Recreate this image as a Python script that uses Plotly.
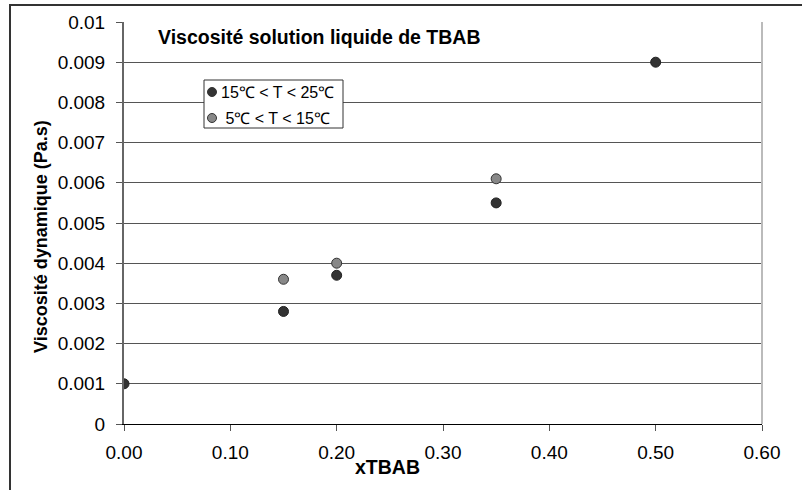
import plotly.graph_objects as go

# Mesures de viscosité dynamique d'une solution liquide de TBAB
x_chaud = [0.00, 0.15, 0.20, 0.35, 0.50]
mu_chaud = [0.0010, 0.0028, 0.0037, 0.0055, 0.0090]
x_froid = [0.15, 0.20, 0.35]
mu_froid = [0.0036, 0.0040, 0.0061]

label_chaud = "15℃ < T < 25℃"
label_froid = " 5℃ < T < 15℃"

y_ticks = [0, 0.001, 0.002, 0.003, 0.004, 0.005, 0.006, 0.007, 0.008, 0.009, 0.01]
y_ticktext = ["0", "0.001", "0.002", "0.003", "0.004", "0.005", "0.006",
              "0.007", "0.008", "0.009", "0.01"]
x_ticks = [0.0, 0.1, 0.2, 0.3, 0.4, 0.5, 0.6]

W, H = 802, 490
L, R, T, B = 124, 40, 22, 66
PW, PH = W - L - R, H - T - B


def px(xp):
    return (xp - L) / PW


def py(yp):
    return (H - B - yp) / PH


DARK = "#333333"
GRAY = "#888888"
FONT = "Liberation Sans, Arial, sans-serif"

fig = go.Figure()
fig.add_trace(go.Scatter(
    x=x_chaud, y=mu_chaud, mode="markers", name=label_chaud,
    marker=dict(size=10, color=DARK, line=dict(color="#222222", width=1)),
))
fig.add_trace(go.Scatter(
    x=x_froid, y=mu_froid, mode="markers", name=label_froid,
    marker=dict(size=10, color=GRAY, line=dict(color="#333333", width=1)),
))

shapes = [
    # cadre extérieur (gauche et haut)
    dict(type="line", xref="paper", yref="paper", x0=px(10), x1=px(10),
         y0=py(5), y1=py(520), line=dict(color="#333333", width=2)),
    dict(type="line", xref="paper", yref="paper", x0=px(9), x1=px(820),
         y0=py(5), y1=py(5), line=dict(color="#333333", width=2)),
    # bordure droite de la zone de tracé
    dict(type="line", xref="paper", yref="paper", x0=1, x1=1, y0=0, y1=1,
         line=dict(color="#bbbbbb", width=2)),
    # boîte de légende
    dict(type="rect", xref="paper", yref="paper", x0=px(204), x1=px(343),
         y0=py(128), y1=py(80), fillcolor="white",
         line=dict(color="#333333", width=1), layer="above"),
]

legend_rows = [(label_chaud, DARK, 92), (label_froid, GRAY, 118)]
annotations = []
for text, color, yrow in legend_rows:
    shapes.append(dict(
        type="circle", xref="paper", yref="paper",
        xsizemode="pixel", ysizemode="pixel",
        xanchor=px(212), yanchor=py(yrow), x0=-4.5, x1=4.5, y0=-4.5, y1=4.5,
        fillcolor=color, line=dict(color="#333333", width=1), layer="above",
    ))
    annotations.append(dict(
        xref="paper", yref="paper", x=px(219), y=py(yrow), xanchor="left",
        yanchor="middle", text=text, showarrow=False,
        font=dict(family=FONT, size=16, color="black"),
    ))

annotations += [
    dict(xref="paper", yref="paper", x=px(156), y=py(37), xanchor="left",
         yanchor="middle", showarrow=False,
         text="<b>Viscosité solution liquide de TBAB</b>",
         font=dict(family=FONT, size=19.5, color="black")),
    dict(xref="paper", yref="paper", x=px(387), y=py(467), xanchor="center",
         yanchor="middle", showarrow=False, text="<b>xTBAB</b>",
         font=dict(family=FONT, size=19.5, color="black")),
    dict(xref="paper", yref="paper", x=px(41), y=py(236), xanchor="center",
         yanchor="middle", showarrow=False, textangle=-90,
         text="<b>Viscosité dynamique (Pa.s)</b>",
         font=dict(family=FONT, size=18, color="black")),
]

fig.update_layout(
    width=W, height=H,
    margin=dict(l=L, r=R, t=T, b=B),
    paper_bgcolor="white", plot_bgcolor="white",
    showlegend=False,
    shapes=shapes, annotations=annotations,
    font=dict(family=FONT, size=19, color="black"),
)
fig.update_xaxes(
    range=[0, 0.6], tickvals=x_ticks, tickformat=".2f",
    showgrid=False, zeroline=False,
    showline=True, linecolor="black", linewidth=1,
    ticks="outside", ticklen=6, tickcolor="#555555", tickwidth=1,
    ticklabelstandoff=5,
)
fig.update_yaxes(
    range=[0, 0.01], tickvals=y_ticks, ticktext=y_ticktext,
    showgrid=True, gridcolor="#555555", gridwidth=1, zeroline=False,
    showline=True, linecolor="#666666", linewidth=2,
    ticks="outside", ticklen=6, tickcolor="#555555", tickwidth=1,
    ticklabelstandoff=7,
)

fig.write_html("out.html")
